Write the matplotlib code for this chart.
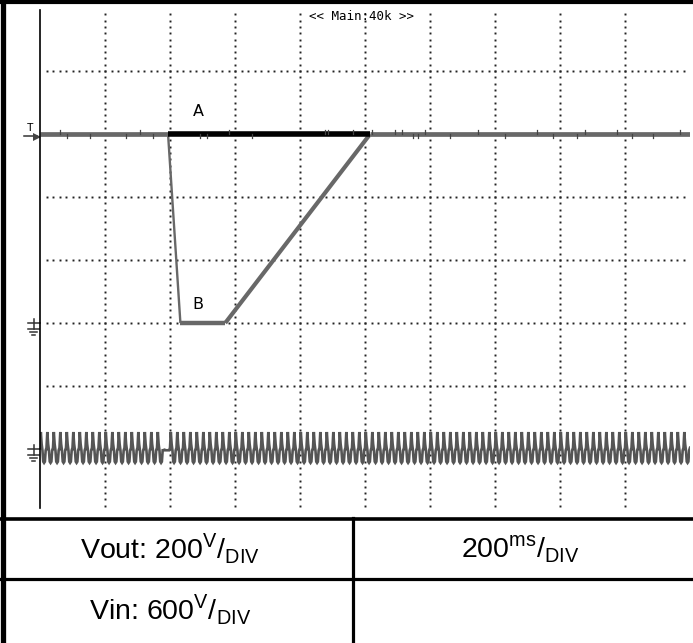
import numpy as np
import matplotlib
matplotlib.use("Agg")
import matplotlib.pyplot as plt
from matplotlib.lines import Line2D

plt.rcParams['font.family'] = ['Liberation Sans', 'DejaVu Sans']

# ====== 数据（单位：格 div，x: 0..10, y: 0..8 自下而上）======
vout_x = [0.0, 1.97, 2.16, 2.85, 5.08, 10.0]
vout_y = [6.0, 6.0, 3.0, 3.0, 6.0, 6.0]
ref_x = [1.97, 5.08]          # 黑色段 A
ref_y = [6.0, 6.0]

# Vout 上的毛刺 (x 位置, 方向)
blip_x = [0.30, 0.41, 0.77, 1.32, 1.54, 1.74, 2.46, 2.57, 2.91, 3.26, 4.38, 4.43,
          4.82, 5.11, 5.46, 5.57, 5.74, 5.82, 5.92, 6.31, 6.74, 7.15, 7.65, 7.89,
          8.26, 8.38, 8.88, 9.10, 9.43, 9.85]
blip_dir = [1, -1, -1, -1, 1, -1, -1, -1, 1, -1, 1, 1,
            1, 1, 1, 1, -1, -1, 1, -1, 1, -1, 1, -1,
            -1, 1, 1, -1, -1, 1]

# Vin：一个周期的形状（相对中心，div），共 100 个周期，中间有一段中断
vin_center = 1.02
vin_cycle = [0.0, 0.25, 0.06, -0.04, -0.22, -0.24, -0.22, -0.04]
vin_cycles = 100
vin_gap = (1.88, 1.99)
vin_gap_level = 0.98

labels = ["A", "B"]
label_x = [2.43, 2.43]
label_y = [6.35, 3.29]

gnd_y = [3.0, 1.0]     # Vout / Vin 接地标记
trig_y = 6.0

cell_text = [r"Vout: 200$^{\mathregular{V}}$/$_{\mathregular{DIV}}$",
             r"200$^{\mathregular{ms}}$/$_{\mathregular{DIV}}$",
             r"Vin: 600$^{\mathregular{V}}$/$_{\mathregular{DIV}}$"]

W, H = 693, 643
fig = plt.figure(figsize=(W / 100, H / 100), dpi=100)
fig.patch.set_facecolor("white")


def fx(px):
    return px / W


def fy(py):
    return 1 - py / H


ax = fig.add_axes([fx(40), fy(512), fx(690) - fx(40), fy(8) - fy(512)])
ax.set_xlim(0, 10)
ax.set_ylim(0, 8)
for s in ["top", "right", "bottom"]:
    ax.spines[s].set_visible(False)
ax.spines["left"].set_linewidth(1.2)
ax.spines["left"].set_bounds(0.06, 7.97)
ax.set_xticks([])
ax.set_yticks([])

# 点状网格
fine = np.arange(0.1, 10.0, 0.1)
for gx in range(1, 10):
    yy = np.arange(0.1, 7.95, 0.1)
    ax.plot(np.full_like(yy, gx), yy, ls="none", marker="s", ms=1.4, color="#222222", mew=0)
for gy in range(1, 8):
    ax.plot(fine, np.full_like(fine, gy), ls="none", marker="s", ms=1.4, color="#222222", mew=0)

# Vin 波形
n = len(vin_cycle)
xs = np.linspace(0, 10, vin_cycles * n + 1)
ys = np.array((vin_cycle * vin_cycles) + [vin_cycle[0]]) + vin_center
gap = (xs >= vin_gap[0]) & (xs <= vin_gap[1])
ys[gap] = vin_gap_level
ax.plot(xs, ys, color="#555555", lw=1.9, solid_joinstyle="miter")

# Vout 波形
gray = "#686868"
ax.plot(vout_x[:2], vout_y[:2], color=gray, lw=3.4, solid_capstyle="butt")
ax.plot(vout_x[1:3], vout_y[1:3], color=gray, lw=1.7, solid_capstyle="butt")
ax.plot(vout_x[2:4], vout_y[2:4], color=gray, lw=3.2, solid_capstyle="butt")
ax.plot(vout_x[3:5], vout_y[3:5], color=gray, lw=3.0, solid_capstyle="butt")
ax.plot(vout_x[4:], vout_y[4:], color=gray, lw=3.4, solid_capstyle="butt")
ax.plot(ref_x, ref_y, color="black", lw=4.0, solid_capstyle="butt")
for bx, bd in zip(blip_x, blip_dir):
    ax.plot([bx, bx], [6.0, 6.0 + bd * 0.07], color="#444444", lw=0.9)

for t, lx, ly in zip(labels, label_x, label_y):
    ax.text(lx, ly, t, ha="center", va="center", fontsize=11.5, family="DejaVu Sans")

ax.text(4.95, 7.86, "<< Main:40k >>", ha="center", va="center",
        fontsize=9, family="DejaVu Sans Mono")

# 左侧标记（接地、触发）
px_x = 10 / 650
px_y = 8 / 504
for g in gnd_y:
    kw = dict(color="#333333", lw=1.1, clip_on=False)
    ax.plot([-12 * px_x, 0], [g, g], **kw)
    ax.plot([-6 * px_x, -6 * px_x], [g + 4 * px_y, g - 6 * px_y], **kw)
    ax.plot([-12 * px_x, -1 * px_x], [g - 6 * px_y] * 2, **kw)
    ax.plot([-10 * px_x, -3 * px_x], [g - 9 * px_y] * 2, **kw)
    ax.plot([-8 * px_x, -5 * px_x], [g - 12 * px_y] * 2, **kw)
ax.text(-10 * px_x, trig_y + 1 * px_y, "T", ha="center", va="bottom", fontsize=8,
        family="DejaVu Sans Mono", clip_on=False)
ax.plot([-16 * px_x, -3 * px_x], [trig_y - 2 * px_y] * 2, color="#333333", lw=1.1, clip_on=False)
ax.plot([-3 * px_x], [trig_y - 3 * px_y], marker=">", ms=6, color="#444444", mew=0, clip_on=False)

# 外框与表格线
def hline(py, x0, x1, lw):
    fig.add_artist(Line2D([fx(x0), fx(x1)], [fy(py), fy(py)], color="black", lw=lw))


def vline(px, y0, y1, lw):
    fig.add_artist(Line2D([fx(px), fx(px)], [fy(y0), fy(y1)], color="black", lw=lw))


vline(2.5, 0, 643, 3.8)
hline(2, 0, 693, 3.0)
hline(518.5, 0, 693, 2.6)
hline(578.5, 0, 693, 2.3)
vline(352.5, 518, 643, 2.3)

fs = 20.5
fig.text(fx(170), fy(549), cell_text[0], ha="center", va="center", fontsize=fs)
fig.text(fx(520), fy(549), cell_text[1], ha="center", va="center", fontsize=fs)
fig.text(fx(170), fy(610), cell_text[2], ha="center", va="center", fontsize=fs)

fig.savefig("out.png", dpi=100)
